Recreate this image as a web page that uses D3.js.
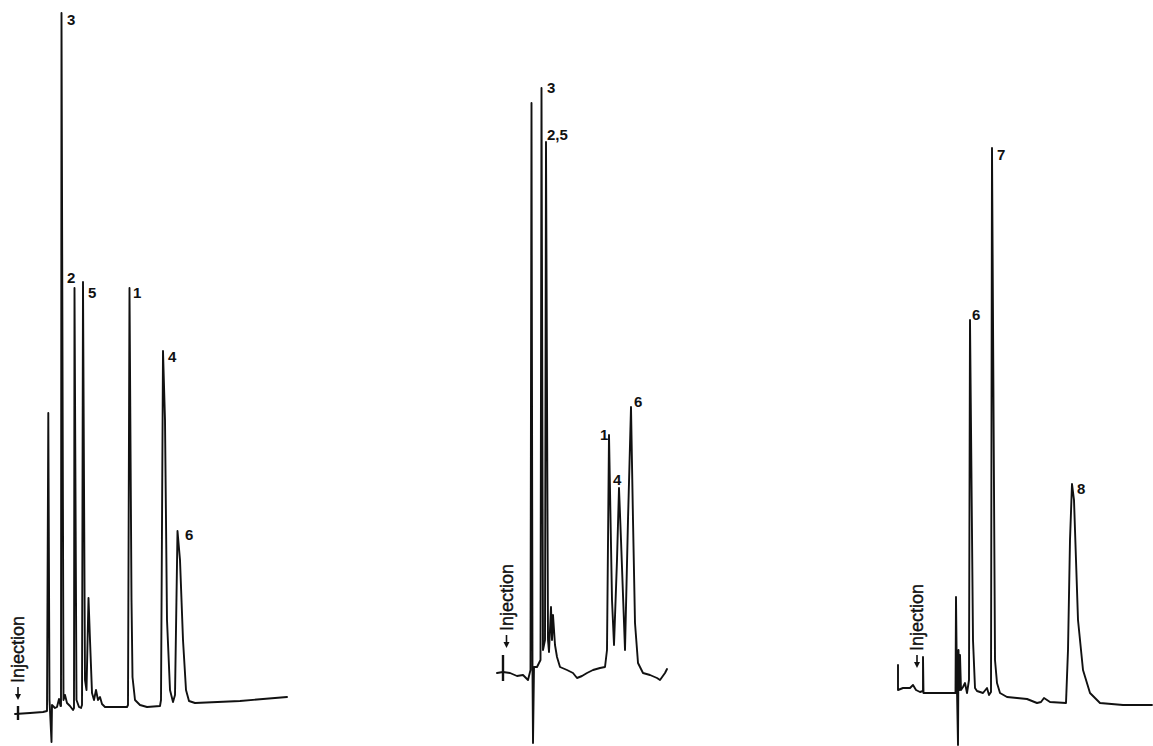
<!DOCTYPE html>
<html>
<head>
<meta charset="utf-8">
<script src="https://cdn.jsdelivr.net/npm/d3@7"></script>
<style>
  html, body { margin: 0; padding: 0; background: #fff; }
  svg { display: block; }
</style>
</head>
<body>
<svg id="chart" width="1153" height="746"></svg>
<script>
// ---- Data (retention time units, detector response units) ----
// Panel A chromatogram trace: [time, response]
const traceA = [
  [0,-0.1],[1.5,0],[2.8,0.1],[3.2,0.2],[3.33,30.0],[3.45,1.3],[3.65,-2.9],[3.7,0.8],
  [4.0,0.5],[4.2,0.6],[4.4,1.4],[4.55,0.7],[4.6,0.7],[4.65,70.0],[4.85,1.3],
  [5.0,1.8],[5.2,1.0],[5.5,0.7],[5.8,0.3],[5.9,0.5],[5.95,42.5],[6.15,1.3],[6.4,0.6],
  [6.6,0.5],[6.7,0.8],[6.8,43.1],[7.0,3.3],[7.15,2.3],[7.35,11.5],[7.5,7.3],[7.7,2.0],
  [7.9,1.3],[8.1,2.3],[8.3,1.3],[8.5,1.6],[8.7,0.9],[9.0,0.6],[11.2,0.6],
  [11.3,0.8],[11.45,42.5],[11.65,11.3],[11.75,3.6],[12.0,1.3],[12.5,0.8],[13.2,0.6],[14.5,0.7],
  [14.6,1.3],[14.8,36.2],[15.0,29.3],[15.2,9.3],[15.5,2.3],[15.8,1.1],[16.0,1.8],
  [16.25,18.2],[16.5,15.3],[16.8,7.3],[17.1,2.3],[17.4,1.2],[18.0,1.0],[22.5,1.2],[27.2,1.6]
];
// Panel B chromatogram trace
const traceB = [
  [0,0],[0.6,0.1],[1.3,0],[2.0,-0.3],[2.6,-0.2],[3.1,-0.7],[3.35,0.3],[3.45,57.0],
  [3.55,0.0],[3.6,-7.0],[3.7,0.6],[4.0,0.6],[4.2,1.0],[4.35,1.3],[4.45,58.5],[4.6,2.3],
  [4.8,3.3],[4.9,53.1],[5.1,3.3],[5.2,2.1],[5.4,6.6],[5.5,3.3],[5.6,5.8],[5.8,2.8],
  [6.0,1.6],[6.3,0.6],[7.0,0.3],[7.6,0],[8.0,-0.5],[8.5,-0.3],[9.0,0],[9.6,0.3],
  [10.3,0.5],[10.8,0.6],[11.0,2.3],[11.2,23.8],[11.5,7.3],[11.7,2.8],[12.0,11.3],
  [12.2,18.5],[12.4,13.3],[12.8,2.3],[13.1,15.3],[13.4,26.6],[13.6,15.3],[13.8,5.0],
  [14.1,1.0],[14.6,0],[15.3,-0.2],[16.0,-0.5],[16.3,-0.7],[16.8,0],[17.0,0.4]
];
// Panel C chromatogram trace
const traceC = [
  [0,2.8],[0,0.3],[0.5,0.5],[1.2,0.5],[1.5,0.8],[1.8,0.3],[2.2,0.1],[2.5,0.2],[2.5,3.6],
  [2.55,0],[5.5,0],[5.75,0],[5.8,9.6],[5.9,0.3],[6.0,-5.2],[6.05,4.3],[6.15,0.3],
  [6.2,3.8],[6.3,0.3],[6.5,0.6],[6.7,1.0],[6.9,0],[7.1,1.3],[7.2,37.3],[7.5,5.3],
  [7.7,0.5],[7.9,0.2],[8.5,0],[8.9,0.5],[9.1,-0.2],[9.3,0.1],[9.4,54.5],[9.7,3.3],
  [9.9,1.0],[10.2,0],[10.9,-0.4],[11.9,-0.5],[12.9,-0.6],[13.9,-1.0],[14.3,-0.9],
  [14.6,-0.5],[15.2,-0.9],[16.8,-1.0],[17.0,4.3],[17.2,15.3],[17.4,20.9],[17.6,19.3],
  [17.8,13.3],[18.0,7.3],[18.5,2.3],[19.2,0],[20.2,-1.0],[22.5,-1.2],[25.4,-1.2]
];
// Peak labels: [text, time, response]
const labelsA = [["3",5.2,68.8],["2",5.2,43.0],["5",7.3,41.5],["1",11.8,41.5],["4",15.3,35.1],["6",17.0,17.3]];
const labelsB = [["3",5.0,58.0],["2,5",5.0,53.3],["1",10.3,23.3],["4",11.6,18.8],["6",13.7,26.6]];
const labelsC = [["6",7.4,37.3],["7",9.9,53.3],["8",17.9,19.9]];
// Injection markers: [time, response at arrow tip]
const injA = [[0.3, 1.3]];
const injB = [[0.95, 2.5]];
const injC = [[1.9, 2.5]];
const injTickA = [[0.3, 0.7],[0.3, -0.7]];
const injTickB = [[0.6, 1.8],[0.6, -0.8]];

const svg = d3.select("#chart");
const INK = "#111";
const FONT = "Liberation Sans, Arial, sans-serif";

const panels = [
  { trace: traceA, labels: labelsA, inj: injA, tick: injTickA,
    x: d3.scaleLinear().domain([0, 10]).range([15, 115]),
    y: d3.scaleLinear().domain([0, 10]).range([713, 613]) },
  { trace: traceB, labels: labelsB, inj: injB, tick: injTickB,
    x: d3.scaleLinear().domain([0, 10]).range([497, 597]),
    y: d3.scaleLinear().domain([0, 10]).range([673, 573]) },
  { trace: traceC, labels: labelsC, inj: injC, tick: null,
    x: d3.scaleLinear().domain([0, 10]).range([898, 998]),
    y: d3.scaleLinear().domain([0, 10]).range([693, 593]) }
];

panels.forEach(p => {
  const g = svg.append("g");
  const line = d3.line().x(d => p.x(d[0])).y(d => p.y(d[1])).curve(d3.curveLinear);
  g.append("path")
    .datum(p.trace)
    .attr("d", line)
    .attr("fill", "none")
    .attr("stroke", INK)
    .attr("stroke-width", 1.9)
    .attr("stroke-linejoin", "round")
    .attr("stroke-linecap", "round");

  if (p.tick) {
    g.append("path")
      .datum(p.tick)
      .attr("d", line)
      .attr("fill", "none")
      .attr("stroke", INK)
      .attr("stroke-width", 2.4);
  }

  g.selectAll("text.peak")
    .data(p.labels)
    .enter().append("text")
    .attr("class", "peak")
    .attr("x", d => p.x(d[1]))
    .attr("y", d => p.y(d[2]))
    .attr("font-family", FONT)
    .attr("font-weight", "bold")
    .attr("font-size", 15)
    .attr("fill", INK)
    .text(d => d[0]);

  // injection arrow + rotated label
  p.inj.forEach(d => {
    const cx = p.x(d[0]);
    const tip = p.y(d[1]);
    g.append("line")
      .attr("x1", cx).attr("x2", cx)
      .attr("y1", tip - 13).attr("y2", tip - 4)
      .attr("stroke", INK).attr("stroke-width", 1.6);
    g.append("path")
      .attr("d", `M${cx - 3},${tip - 6}L${cx + 3},${tip - 6}L${cx},${tip}Z`)
      .attr("fill", INK);
    g.append("text")
      .attr("transform", `translate(${cx + 6},${tip - 17}) rotate(-90)`)
      .attr("font-family", FONT)
      .attr("font-size", 18)
      .attr("fill", INK)
      .attr("stroke", INK)
      .attr("stroke-width", 0.4)
      .text("Injection");
  });
});
</script>
</body>
</html>
